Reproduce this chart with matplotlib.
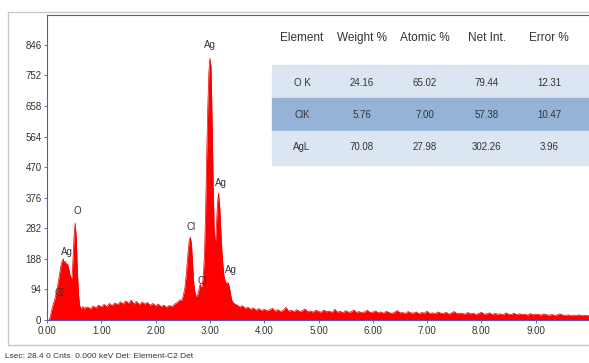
import matplotlib.pyplot as plt
from matplotlib.patches import Rectangle

# EDS spectrum (keV, counts)
energy = [0.04, 0.06, 0.08, 0.10, 0.12, 0.14, 0.16, 0.18, 0.20, 0.22, 0.24, 0.26, 0.28, 0.30,
          0.32, 0.34, 0.36, 0.38, 0.40, 0.42, 0.44, 0.46, 0.48, 0.50, 0.52, 0.54, 0.56, 0.58,
          0.60, 0.62, 0.64, 0.66, 0.68, 0.70,
          0.75, 0.80, 0.85, 0.90, 0.95, 1.00, 1.05, 1.10, 1.15, 1.20, 1.25, 1.30, 1.35, 1.40,
          1.45, 1.50, 1.55, 1.60, 1.65, 1.70, 1.75, 1.80, 1.85, 1.90, 1.95, 2.00, 2.05, 2.10,
          2.15, 2.20, 2.25, 2.30, 2.35, 2.40, 2.45,
          2.48, 2.51, 2.54, 2.57, 2.60, 2.62, 2.64, 2.66, 2.68, 2.70, 2.72, 2.74, 2.76, 2.78,
          2.80, 2.82, 2.84, 2.86, 2.88, 2.90, 2.92, 2.94, 2.96, 2.98, 3.00, 3.02, 3.04, 3.06,
          3.08, 3.10, 3.12, 3.14, 3.16, 3.18, 3.20, 3.22, 3.24, 3.26, 3.28, 3.30, 3.32, 3.34,
          3.36, 3.38, 3.40, 3.42, 3.45, 3.50,
          3.55, 3.60, 3.65, 3.70, 3.75, 3.80, 3.85, 3.90, 3.95, 4.00, 4.05, 4.10, 4.15, 4.20,
          4.25, 4.30, 4.35, 4.40, 4.45, 4.50, 4.55, 4.60, 4.65, 4.70, 4.75, 4.80, 4.85, 4.90,
          4.95, 5.00, 5.05, 5.10, 5.15, 5.20, 5.25, 5.30, 5.35, 5.40, 5.45, 5.50, 5.55, 5.60,
          5.65, 5.70, 5.75, 5.80, 5.85, 5.90, 5.95, 6.00, 6.05, 6.10, 6.15, 6.20, 6.25, 6.30,
          6.35, 6.40, 6.45, 6.50, 6.55, 6.60, 6.65, 6.70, 6.75, 6.80, 6.85, 6.90, 6.95, 7.00,
          7.05, 7.10, 7.15, 7.20, 7.25, 7.30, 7.35, 7.40, 7.45, 7.50, 7.55, 7.60, 7.65, 7.70,
          7.75, 7.80, 7.85, 7.90, 7.95, 8.00, 8.05, 8.10, 8.15, 8.20, 8.25, 8.30, 8.35, 8.40,
          8.45, 8.50, 8.55, 8.60, 8.65, 8.70, 8.75, 8.80, 8.85, 8.90, 8.95, 9.00, 9.05, 9.10,
          9.15, 9.20, 9.25, 9.30, 9.35, 9.40, 9.45, 9.50, 9.55, 9.60, 9.65, 9.70, 9.75, 9.80,
          9.85, 9.90, 9.95, 10.0]
counts = [0, 10, 25, 40, 52, 62, 75, 90, 110, 130, 150, 170, 182, 188,
          175, 180, 168, 172, 158, 140, 130, 128, 190, 265, 298, 250, 150, 80,
          45, 38, 35, 42, 33, 38,
          40, 34, 43, 37, 46, 40, 48, 41, 51, 44, 53, 47, 56, 49,
          59, 51, 61, 49, 57, 47, 55, 49, 54, 45, 51, 43, 49, 41,
          46, 39, 45, 41, 49, 54, 62,
          60, 75, 100, 150, 215, 245, 255, 235, 180, 120, 90, 75, 72, 80,
          95, 110, 100, 105, 140, 200, 330, 500, 650, 760, 805, 780, 620, 420,
          270, 230, 290, 360, 390, 350, 280, 215, 170, 135, 120, 112, 115, 114,
          100, 80, 62, 55, 50, 46,
          40, 44, 36, 39, 33, 37, 30, 35, 29, 33, 28, 31, 36, 27,
          32, 26, 30, 39, 27, 30, 25, 32, 26, 28, 34, 25, 28, 24,
          30, 26, 24, 31, 25, 28, 23, 33, 24, 27, 22, 29, 24, 25,
          31, 23, 26, 22, 25, 30, 23, 24, 28, 22, 25, 21, 27, 23,
          20, 24, 29, 22, 23, 20, 26, 22, 21, 25, 19, 23, 21, 27,
          20, 22, 19, 25, 21, 20, 24, 18, 22, 26, 19, 21, 20, 18,
          23, 19, 21, 17, 20, 24, 18, 19, 22, 17, 20, 18, 19, 16,
          22, 18, 17, 21, 16, 19, 17, 18, 15, 20, 16, 18, 17, 15,
          19, 16, 15, 17, 14, 16, 19, 15, 14, 16, 13, 15, 14, 16,
          13, 15, 14, 12]

# peak labels (text, keV, counts)
peak_names = ['Ag', 'Ag', 'Cl', 'Cl', 'Ag', 'O', 'Ag', 'Cl']
peak_x = [3.0, 3.2, 2.65, 2.85, 3.39, 0.55, 0.37, 0.22]
peak_y = [845, 421, 286, 120, 154, 335, 209, 83]

# quantification table
headers = ['Element', 'Weight %', 'Atomic %', 'Net Int.', 'Error %']
rows = [['O K', '24.16', '65.02', '79.44', '12.31'],
        ['ClK', '5.76', '7.00', '57.38', '10.47'],
        ['AgL', '70.08', '27.98', '302.26', '3.96']]

W, H = 589, 363
narrow = ['Liberation Sans Narrow', 'Liberation Sans', 'DejaVu Sans']
fig = plt.figure(figsize=(W / 100, H / 100), dpi=100)

# outer grey frame
fig.patches.append(Rectangle((8 / W, 1 - 345 / H), 1.0, (345 - 12) / H, transform=fig.transFigure,
                             fill=False, edgecolor='#c8c8c8', linewidth=1.0))

ax = fig.add_axes([47 / W, 1 - 320 / H, 543 / W, 305 / H])
ax.fill_between(energy, counts, color='#ff0000', linewidth=0)
ax.plot(energy, counts, color='#ee0000', linewidth=0.5)
ax.set_xlim(0, 10)
ax.set_ylim(0, 938)
ax.set_xticks([0, 1, 2, 3, 4, 5, 6, 7, 8, 9])
ax.set_xticklabels(['%.2f' % v for v in range(10)])
ax.set_yticks([0, 94, 188, 282, 376, 470, 564, 658, 752, 846])
ax.tick_params(labelsize=7, length=2, width=0.6, color='#5050c0', labelcolor='#333333', pad=2)
for lab in ax.get_xticklabels() + ax.get_yticklabels():
    lab.set_family(narrow)
for s in ax.spines.values():
    s.set_color('#5555c8')
    s.set_linewidth(0.8)

for name, px, py in zip(peak_names, peak_x, peak_y):
    ax.text(px, py, name, fontsize=7, family=narrow, color='#333333', ha='center', va='center')

# table bands
band_cols = ['#dce6f2', '#95b3d7', '#dce6f2']
band_edges = [65, 98, 131, 165]
for i, c in enumerate(band_cols):
    fig.patches.append(Rectangle((272 / W, 1 - band_edges[i + 1] / H), 1.0,
                                 (band_edges[i + 1] - band_edges[i]) / H,
                                 transform=fig.transFigure, color=c, zorder=3))

col_x = [302, 362, 425, 487, 549]
for cx, h in zip(col_x, headers):
    fig.text(cx / W, 1 - 38 / H, h, fontsize=8.5, family=narrow, color='#333333',
             ha='center', va='center', zorder=4)
row_y = [83, 115, 147]
for ry, r in zip(row_y, rows):
    for cx, v in zip(col_x, r):
        fig.text(cx / W, 1 - ry / H, v, fontsize=7, family=narrow, color='#333333',
                 ha='center', va='center', zorder=4)

fig.text(5 / W, 1 - 357 / H, 'Lsec: 28.4 0 Cnts  0.000 keV Det: Element-C2 Det',
         fontsize=6, family=narrow, color='#333333', ha='left', va='center')

fig.savefig('out.png', dpi=100)
